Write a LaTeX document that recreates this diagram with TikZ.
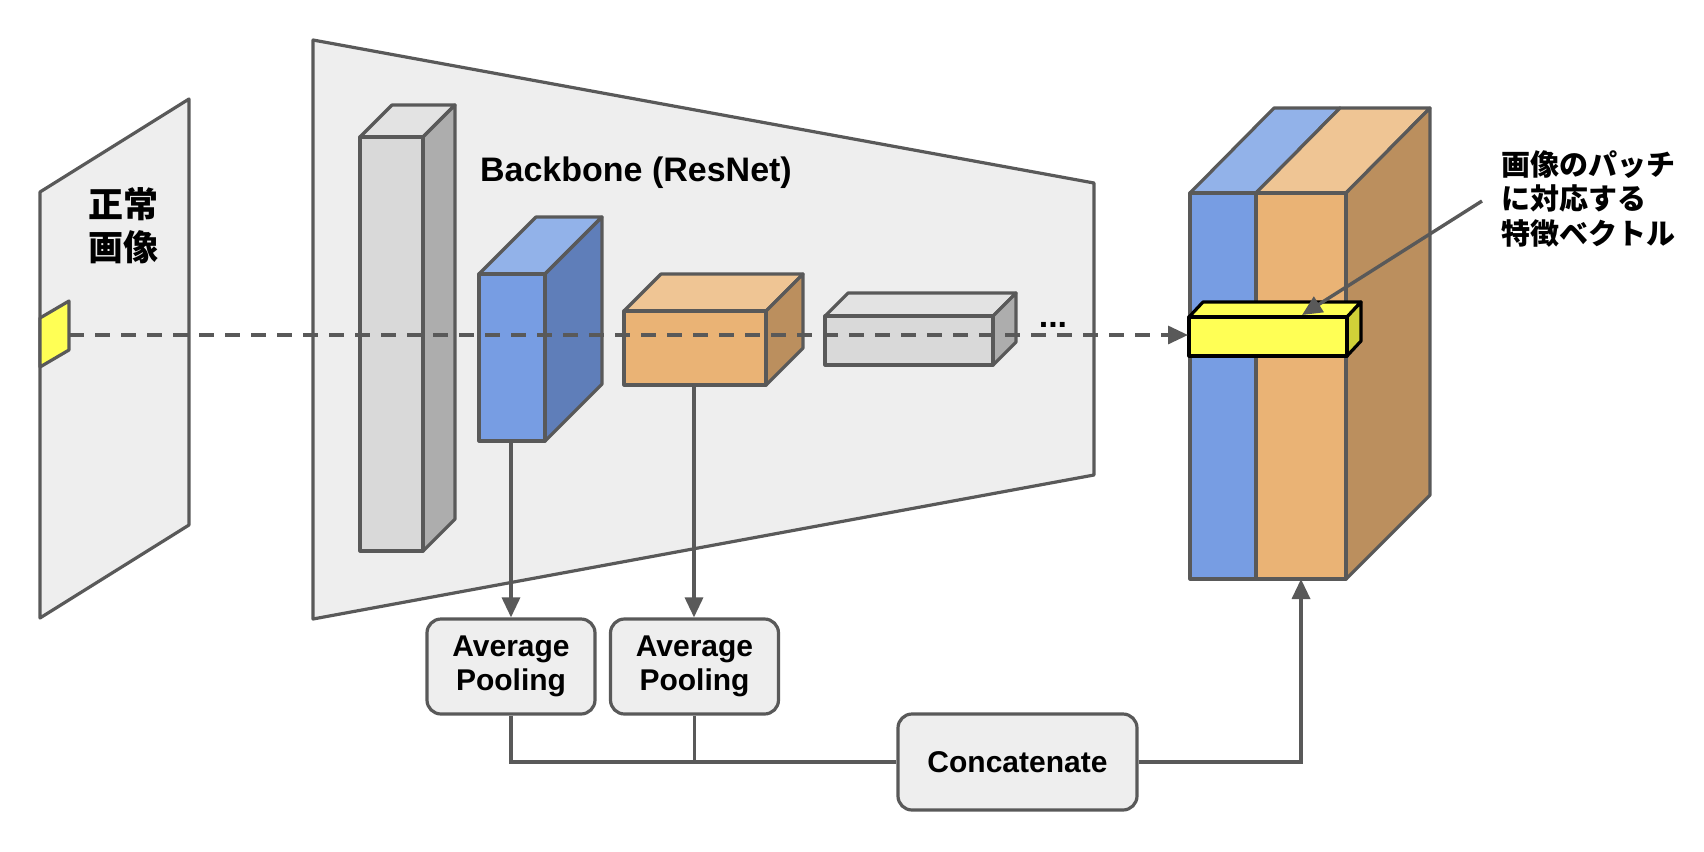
\documentclass[tikz,border=0pt]{standalone}
\usepackage{fontspec}
\setmainfont{Liberation Sans}
\newfontfamily\jp{Noto Sans CJK JP}
\usetikzlibrary{arrows.meta}
\definecolor{ln}{HTML}{595959}
\definecolor{panel}{HTML}{EEEEEE}
\definecolor{grF}{HTML}{D9D9D9}
\definecolor{grT}{HTML}{E3E3E3}
\definecolor{grS}{HTML}{ADADAD}
\definecolor{blF}{HTML}{779DE3}
\definecolor{blT}{HTML}{92B2E9}
\definecolor{blS}{HTML}{5F7EB9}
\definecolor{orF}{HTML}{EAB375}
\definecolor{orT}{HTML}{EFC594}
\definecolor{orS}{HTML}{BB8F5E}
\definecolor{ylF}{HTML}{FFFF55}
\definecolor{ylS}{HTML}{D0D038}
\tikzset{
  edge/.style={draw=ln, line width=1.6pt, line join=round},
  conn/.style={draw=ln, line width=1.7pt},
  tip/.style={-{Triangle[length=10pt,width=9pt]}},
  vecedge/.style={draw=black, line width=1.6pt, line join=round},
  opbox/.style={draw=ln, line width=1.6pt, fill=panel, rounded corners=7pt, font=\bfseries\fontsize{15pt}{17.3pt}\selectfont, align=center, inner sep=0pt},
}
% front face x1,y1 (top-left), x2,y2 (bottom-right), depth d, colours
\newcommand{\cuboid}[8]{%
  \path[edge, fill=#6] (#1,#2) -- (#1+#5,#2-#5) -- (#3+#5,#2-#5) -- (#3,#2) -- cycle;
  \path[edge, fill=#8] (#3,#2) -- (#3+#5,#2-#5) -- (#3+#5,#4-#5) -- (#3,#4) -- cycle;
  \path[edge, fill=#7] (#1,#2) rectangle (#3,#4);
}
\begin{document}
\begin{tikzpicture}[x=0.5pt,y=-0.5pt]
\useasboundingbox (0,0) rectangle (1704,852);
% input image panel
\path[edge, fill=panel] (40,192) -- (189,99) -- (189,525) -- (40,618) -- cycle;
\node[font=\jp\bfseries\fontsize{17.5pt}{21.5pt}\selectfont, align=center] (lbl) at (123,226) {正常\\画像};
\path[edge, fill=ylF] (40,318) -- (69,301) -- (69,350) -- (40,367) -- cycle;
\coordinate (patch) at (69,335);
% backbone trapezoid
\path[edge, fill=panel] (313,40) -- (1094,183) -- (1094,475) -- (313,619) -- cycle;
\node[font=\bfseries\fontsize{17pt}{20pt}\selectfont] (bb) at (636,173) {Backbone (ResNet)};
% layers
\cuboid{360}{137}{423}{551}{32}{grT}{grF}{grS}
\cuboid{479}{274}{545}{441}{57}{blT}{blF}{blS}
\cuboid{624}{311}{766}{385}{37}{orT}{orF}{orS}
\cuboid{825}{316}{993}{365}{23}{grT}{grF}{grS}
\node[font=\bfseries\fontsize{17pt}{20pt}\selectfont, inner sep=0pt, anchor=base] (dots) at (1053,327) {...};
\coordinate (blueB) at (511,441);
\coordinate (orB) at (694,385);
% feature block
\path[edge, fill=blT] (1190,193) -- (1274,108) -- (1340,108) -- (1256,193) -- cycle;
\path[edge, fill=orT] (1256,193) -- (1340,108) -- (1430,108) -- (1346,193) -- cycle;
\path[edge, fill=orS] (1346,193) -- (1430,108) -- (1430,495) -- (1346,579) -- cycle;
\path[edge, fill=blF] (1190,193) rectangle (1256,579);
\path[edge, fill=orF] (1256,193) rectangle (1346,579);
\coordinate (featB) at (1301,579);
% yellow feature vector
\path[vecedge, fill=ylF] (1189,317) -- (1203,302) -- (1361,302) -- (1347,317) -- cycle;
\path[vecedge, fill=ylS] (1347,317) -- (1361,302) -- (1361,341) -- (1347,356) -- cycle;
\path[vecedge, fill=ylF] (1189,317) rectangle (1347,356);
\coordinate (vecL) at (1188,335);
\coordinate (vecT) at (1302,315);
% dashed flow
\draw[conn, line width=1.6pt, tip, dash pattern=on 7.5pt off 5.5pt] (patch) -- (vecL);
% label
\node[font=\jp\bfseries\fontsize{14.5pt}{17.3pt}\selectfont, align=left, anchor=west] (vlabel) at (1494,199) {画像のパッチ\\に対応する\\特徴ベクトル};
\coordinate (lblS) at (1482,201);
\draw[conn, tip] (lblS) -- (vecT);
% pooling and concat
\node[opbox, minimum width=84pt, minimum height=47.5pt] (ap1) at (511,666.5) {Average\\Pooling};
\node[opbox, minimum width=84pt, minimum height=47.5pt] (ap2) at (694.5,666.5) {Average\\Pooling};
\node[opbox, minimum width=119.5pt, minimum height=48pt] (cat) at (1017.5,762) {Concatenate};
\draw[conn, tip] (blueB) -- (ap1.north);
\draw[conn, tip] (orB) -- (ap2.north -| orB);
\draw[conn] (ap1.south) |- (cat.west);
\draw[conn] (ap2.south) -- (ap2.south |- cat.west);
\draw[conn, tip] (cat.east) -| (featB);
\end{tikzpicture}
\end{document}
